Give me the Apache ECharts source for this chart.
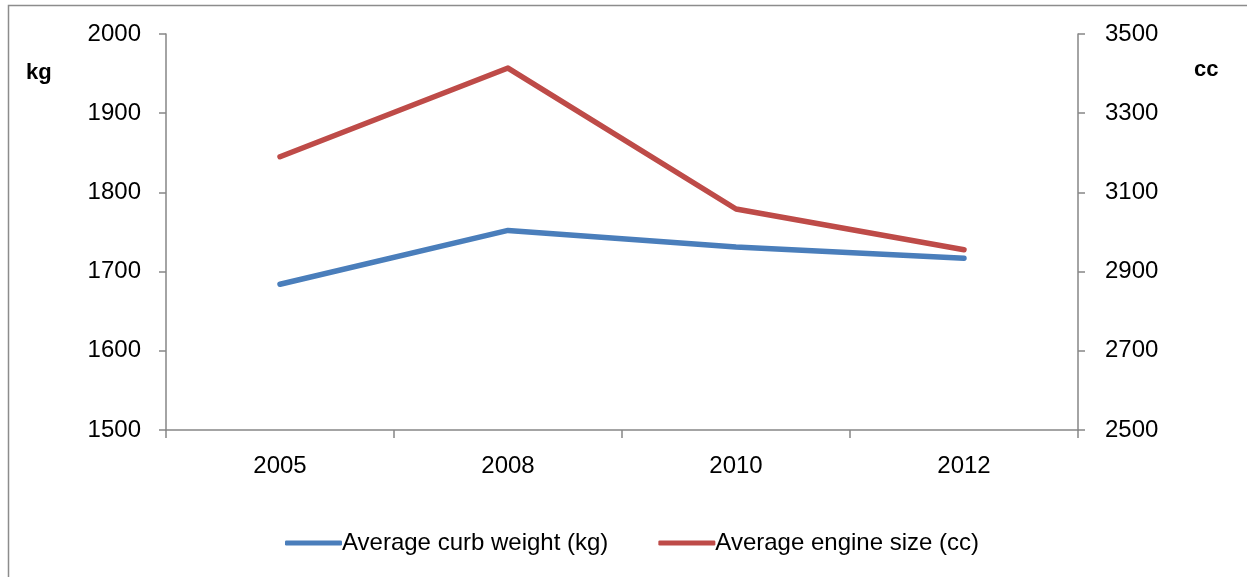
<!DOCTYPE html>
<html>
<head>
<meta charset="utf-8">
<script src="https://cdn.jsdelivr.net/npm/echarts@6/dist/echarts.min.js"></script>
<style>
html,body{margin:0;padding:0;background:#fff;}
#chart{width:1247px;height:577px;}
</style>
</head>
<body>
<div id="chart"></div>
<script>
var categories = ['2005', '2008', '2010', '2012'];
var curbWeight = [1684, 1752, 1731, 1717];
var engineSize = [3190, 3414, 3058, 2955];
var leftTicks = [1500, 1600, 1700, 1800, 1900, 2000];
var rightTicks = [2500, 2700, 2900, 3100, 3300, 3500];
var seriesNames = ['Average curb weight (kg)', 'Average engine size (cc)'];

var FONT = "'Liberation Sans', Arial, sans-serif";
var axisGrey = '#868686';
var plain = function (v) { return String(v); };

var chart = echarts.init(document.getElementById('chart'), null, {renderer: 'canvas'});
chart.setOption({
  animation: false,
  backgroundColor: '#fff',
  textStyle: {fontFamily: FONT},
  grid: {left: 166, right: 169, top: 34, bottom: 147, containLabel: false},
  legend: {
    top: 526,
    left: 280,
    itemWidth: 57,
    itemHeight: 5,
    itemGap: 50,
    icon: 'roundRect',
    textStyle: {fontFamily: FONT, fontSize: 24, color: '#000', padding: [0, 0, 0, -5]},
    data: seriesNames
  },
  xAxis: {
    type: 'category',
    data: categories,
    boundaryGap: true,
    axisLine: {lineStyle: {color: axisGrey, width: 1.5}},
    axisTick: {show: true, length: 8, lineStyle: {color: axisGrey, width: 1.5}},
    axisLabel: {fontFamily: FONT, fontSize: 24, color: '#000', margin: 24},
    splitLine: {show: false}
  },
  yAxis: [
    {
      type: 'value',
      min: leftTicks[0], max: leftTicks[leftTicks.length - 1], interval: 100,
      position: 'left',
      axisLine: {show: true, lineStyle: {color: axisGrey, width: 1.5}},
      axisTick: {show: true, length: 7, lineStyle: {color: axisGrey, width: 1.5}},
      axisLabel: {fontFamily: FONT, fontSize: 24, color: '#000', margin: 25, formatter: plain},
      splitLine: {show: false}
    },
    {
      type: 'value',
      min: rightTicks[0], max: rightTicks[rightTicks.length - 1], interval: 200,
      position: 'right',
      axisLine: {show: true, lineStyle: {color: axisGrey, width: 1.5}},
      axisTick: {show: true, length: 7, lineStyle: {color: axisGrey, width: 1.5}},
      axisLabel: {fontFamily: FONT, fontSize: 24, color: '#000', margin: 27, formatter: plain},
      splitLine: {show: false}
    }
  ],
  series: [
    {
      name: seriesNames[0], type: 'line', yAxisIndex: 0, data: curbWeight,
      symbol: 'none', color: '#4a7ebb',
      lineStyle: {width: 5.5, color: '#4a7ebb', cap: 'round', join: 'round'}
    },
    {
      name: seriesNames[1], type: 'line', yAxisIndex: 1, data: engineSize,
      symbol: 'none', color: '#be4b48',
      lineStyle: {width: 5.5, color: '#be4b48', cap: 'round', join: 'round'}
    }
  ],
  graphic: [
    {type: 'rect', shape: {x: 8.5, y: 5.5, width: 1260, height: 600}, style: {fill: 'none', stroke: '#8c8c8c', lineWidth: 1.5}, silent: true},
    {type: 'text', left: 26, top: 62, style: {text: 'kg', font: 'bold 22px ' + FONT, fill: '#000'}},
    {type: 'text', left: 1194, top: 59, style: {text: 'cc', font: 'bold 22px ' + FONT, fill: '#000'}}
  ]
});
</script>
</body>
</html>
